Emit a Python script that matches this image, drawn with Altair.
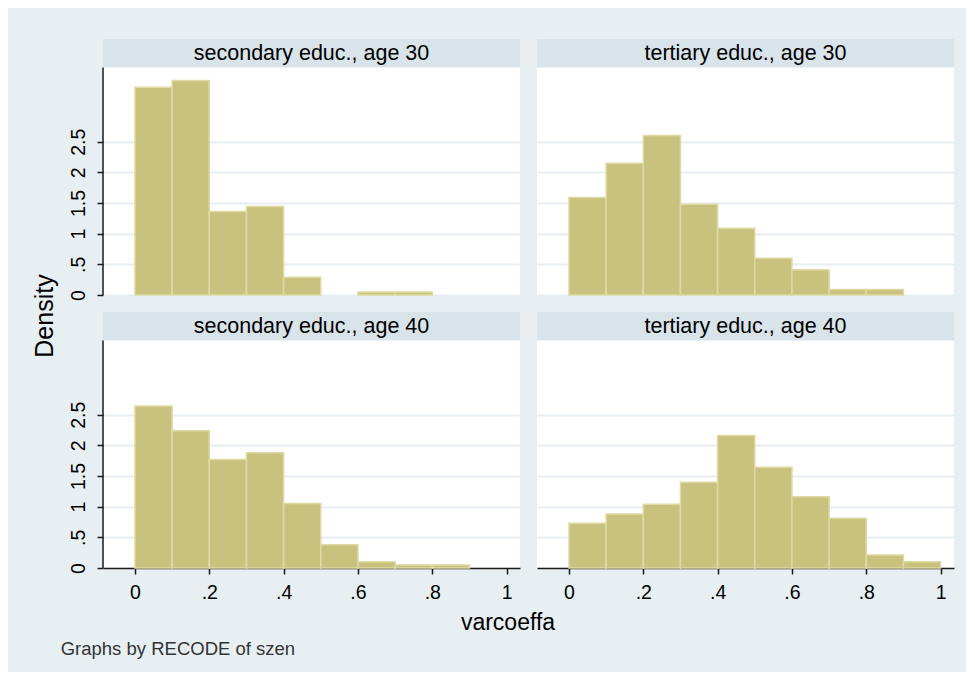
import altair as alt
import pandas as pd

# ---------------- data ----------------
bin_starts = [0.0, 0.1, 0.2, 0.3, 0.4, 0.5, 0.6, 0.7, 0.8, 0.9]
bin_width = 0.1
sec30 = [3.39, 3.50, 1.36, 1.445, 0.29, 0.0, 0.05, 0.05, 0.0, 0.0]
ter30 = [1.59, 2.15, 2.60, 1.48, 1.09, 0.60, 0.41, 0.09, 0.09, 0.0]
sec40 = [2.64, 2.24, 1.77, 1.88, 1.05, 0.38, 0.10, 0.05, 0.05, 0.0]
ter40 = [0.73, 0.88, 1.04, 1.40, 2.16, 1.645, 1.16, 0.81, 0.21, 0.10]
panel_titles = ["secondary educ., age 30", "tertiary educ., age 30",
                "secondary educ., age 40", "tertiary educ., age 40"]
y_ticks = [0, 0.5, 1, 1.5, 2, 2.5]
y_tick_labels = ["0", ".5", "1", "1.5", "2", "2.5"]
x_ticks = [0, 0.2, 0.4, 0.6, 0.8, 1]
x_tick_labels = ["0", ".2", ".4", ".6", ".8", "1"]
x_title = "varcoeffa"
y_title = "Density"
note = "Graphs by RECODE of szen"

# ---------------- style ----------------
BG = "#e8eff2"
HEADER = "#d8e4ea"
BAR = "#c9c27f"
BAR_EDGE = "#dfdaa3"
GRID = "#e6eef1"
INK = "#1a1a1a"
FONT = "Liberation Sans"

PW = 417      # panel width
PH = 256      # panel height incl. header strip
HH = 28.5     # header strip height
XDOM = [-0.086, 1.036]
YMAX = 4.175
WD = 59.2     # width of the left "Density" column
TICKFS = 19.5


def label_expr(vals, labs):
    expr = "''"
    for v, l in reversed(list(zip(vals, labs))):
        expr = f"(abs(datum.value - {v}) < 1e-6 ? '{l}' : {expr})"
    return expr


def panel(title, dens, left, bottom):
    df = pd.DataFrame({
        "start": bin_starts,
        "end": [b + bin_width for b in bin_starts],
        "density": dens,
        "base": [0.0] * len(bin_starts),
    })
    df = df[df["density"] > 0]
    xscale = alt.Scale(domain=XDOM, nice=False, zero=False)
    yscale = alt.Scale(domain=[0, YMAX], nice=False, zero=True)
    if bottom:
        xaxis = alt.Axis(values=x_ticks, labelExpr=label_expr(x_ticks, x_tick_labels),
                         grid=False, domain=True, domainColor=INK, domainWidth=1.5,
                         ticks=True, tickColor=INK, tickWidth=1.5, tickSize=6,
                         labelFont=FONT, labelFontSize=TICKFS, labelColor="black",
                         labelPadding=9, labelFlush=False, labelOverlap=False,
                         title=None)
    else:
        xaxis = None
    if left:
        yaxis = alt.Axis(values=y_ticks, labelExpr=label_expr(y_ticks, y_tick_labels),
                         grid=True, gridColor=GRID, gridWidth=2,
                         domain=False, ticks=True, tickColor=INK, tickWidth=1.5, tickSize=6,
                         labelAngle=270, labelAlign="center", labelBaseline="alphabetic",
                         labelPadding=13, labelFont=FONT, labelFontSize=TICKFS,
                         labelColor="black", labelFlush=False, labelOverlap=False,
                         title=None)
    else:
        yaxis = alt.Axis(values=y_ticks, grid=True, gridColor=GRID, gridWidth=2,
                         domain=False, ticks=False, labels=False, title=None)

    bars = alt.Chart(df).mark_rect(fill=BAR, stroke=BAR_EDGE, strokeWidth=1.5).encode(
        x=alt.X("start:Q", scale=xscale, axis=xaxis),
        x2="end:Q",
        y=alt.Y("density:Q", scale=yscale, axis=yaxis),
        y2="base:Q",
    )
    tdf = pd.DataFrame({"t": [title]})
    head = alt.Chart(tdf).mark_rect(fill=HEADER).encode(
        x=alt.value(0), x2=alt.value(PW), y=alt.value(0), y2=alt.value(HH))
    head_txt = alt.Chart(tdf).mark_text(font=FONT, fontSize=21.5, color="black",
                                        align="center", baseline="alphabetic").encode(
        x=alt.value(PW / 2), y=alt.value(21), text="t:N")
    layers = [bars, head, head_txt]
    if left:
        rule = alt.Chart(tdf).mark_rule(color=INK, strokeWidth=1.5).encode(
            x=alt.value(0), y=alt.value(HH), y2=alt.value(PH))
        layers.append(rule)
    return alt.layer(*layers).properties(
        width=PW, height=PH,
        view=alt.ViewBackground(fill="white", strokeWidth=0))


tl = panel(panel_titles[0], sec30, True, False)
tr = panel(panel_titles[1], ter30, False, False)
bl = panel(panel_titles[2], sec40, True, True)
br = panel(panel_titles[3], ter40, False, True)

grid = alt.vconcat(
    alt.hconcat(tl, tr, spacing=17),
    alt.hconcat(bl, br, spacing=17),
    spacing=11,
)

ydf = pd.DataFrame({"t": [y_title]})
ytitle = alt.Chart(ydf).mark_text(font=FONT, fontSize=25, color="black", angle=270,
                                  align="center", baseline="alphabetic").encode(
    x=alt.value(45), y=alt.value(277), text="t:N"
).properties(width=WD, height=2 * PH + 17)

xdf = pd.DataFrame({"t": [x_title]})
xtitle = alt.Chart(xdf).mark_text(font=FONT, fontSize=23, color="black",
                                  align="center", baseline="alphabetic").encode(
    x=alt.value(500), y=alt.value(28), text="t:N"
).properties(width=900, height=34)

ndf = pd.DataFrame({"t": [note]})
foot = alt.Chart(ndf).mark_text(font=FONT, fontSize=18.5, color="#333333",
                                align="left", baseline="alphabetic").encode(
    x=alt.value(52.7), y=alt.value(19), text="t:N"
).properties(width=900, height=36)

chart = alt.vconcat(
    alt.hconcat(ytitle, grid, spacing=0),
    xtitle,
    foot,
    spacing=0,
).properties(
    background=BG,
    padding={"left": 0, "top": 31, "right": 12, "bottom": 0},
).configure_view(strokeWidth=0)

chart.save("out.html", embed_options={"renderer": "svg", "actions": False})
